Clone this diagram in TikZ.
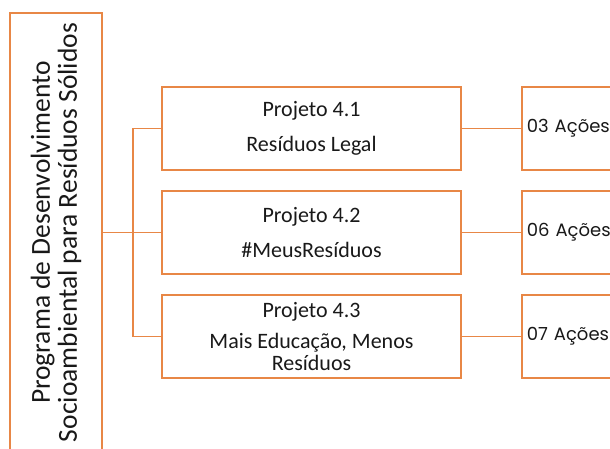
\documentclass[tikz,border=0pt]{standalone}
\usepackage{fontspec}
\setmainfont{Carlito}
\newfontfamily\actfont{Poppins}
\definecolor{orng}{RGB}{232,135,70}
\definecolor{txt}{RGB}{25,25,25}
\tikzset{
  box/.style={draw=orng, line width=1.6pt, fill=white, text=txt},
  projbox/.style={box, minimum width=299pt, minimum height=83pt, align=center, inner sep=0pt,
    font=\fontsize{22}{22}\selectfont},
  actbox/.style={box, anchor=west, minimum width=130pt, minimum height=83pt, inner xsep=5pt,
    text width=120pt, align=left, font=\actfont\fontsize{18}{18}\selectfont},
  link/.style={draw=orng, line width=1.6pt}
}
\begin{document}
\begin{tikzpicture}[x=1pt,y=1pt]
\useasboundingbox (0,0) rectangle (610,448);
\clip (0,0) rectangle (610,448);
\fill[white] (0,0) rectangle (610,448);
\node[box, rotate=90, minimum width=439pt, minimum height=92pt, align=center, inner sep=0pt,
  font=\fontsize{27.5}{27}\selectfont] (prog) at (56,215.5)
  {Programa de Desenvolvimento\\Socioambiental para Resíduos Sólidos};
\node[projbox] (p1) at (311.5,319.5) {Projeto 4.1\\[13pt]Resíduos Legal};
\node[projbox] (p2) at (311.5,215.5) {Projeto 4.2\\[13pt]\#MeusResíduos};
\node[projbox] (p3) at (311.5,111.5) {Projeto 4.3\\[9pt]Mais Educação, Menos\\Resíduos};
\node[actbox] (a1) at (521,319.5) {03 Ações};
\node[actbox] (a2) at (521,215.5) {06 Ações};
\node[actbox] (a3) at (521,111.5) {07 Ações};
\coordinate (j) at (133,215.5);
\draw[link] (prog.south) -- (p2.west);
\draw[link] (p1.west) -| (j) |- (p3.west);
\draw[link] (p1.east) -- (a1.west);
\draw[link] (p2.east) -- (a2.west);
\draw[link] (p3.east) -- (a3.west);
\end{tikzpicture}
\end{document}
